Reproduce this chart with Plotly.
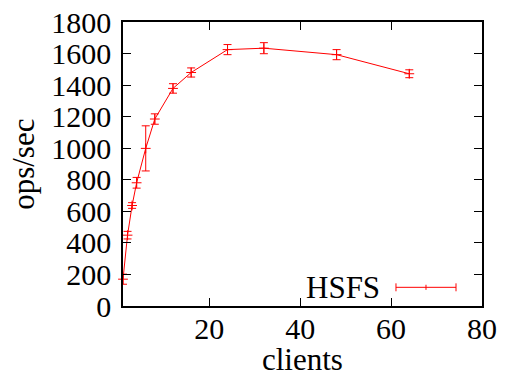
import plotly.graph_objects as go

clients = [1, 2, 3, 4, 6, 8, 12, 16, 24, 32, 48, 64]
ops = [170, 449, 637, 781, 999, 1185, 1379, 1480, 1625, 1634, 1593, 1472]
err = [32, 24, 18, 34, 143, 33, 30, 29, 32, 35, 32, 25]
series_name = "HSFS"
x_title = "clients"
y_title = "ops/sec"
x_ticks = [20, 40, 60, 80]
y_ticks = list(range(0, 1801, 200))

RED = "#ff0000"
FONT = "Liberation Serif"
FS_TICK = 30
FS_TEXT = 31

fig = go.Figure()
fig.add_trace(go.Scatter(
    x=clients, y=ops, mode="lines+markers", name=series_name,
    line=dict(color=RED, width=1),
    marker=dict(symbol="cross-thin", size=7, line=dict(color=RED, width=1), color=RED),
    error_y=dict(type="data", array=err, visible=True, color=RED, thickness=1, width=4),
    showlegend=False, cliponaxis=False,
))

# legend (gnuplot-style: text left, sample right)
lx0, lx1, ly = 0.7604, 0.9276, 0.0658
fig.add_annotation(x=0.7214, y=ly, xref="paper", yref="paper", text=series_name,
                   showarrow=False, xanchor="right", yanchor="middle",
                   font=dict(family=FONT, size=FS_TEXT, color="black"))
fig.add_shape(type="line", xref="paper", yref="paper", x0=lx0, x1=lx1, y0=ly, y1=ly,
              line=dict(color=RED, width=1))
for xx, h in [(lx0, 0.014), (lx1, 0.014), ((lx0 + lx1) / 2, 0.009)]:
    fig.add_shape(type="line", xref="paper", yref="paper", x0=xx, x1=xx, y0=ly - h, y1=ly + h,
                  line=dict(color=RED, width=1))

# axis titles
fig.add_annotation(x=0.5, y=-0.19, xref="paper", yref="paper", text=x_title,
                   showarrow=False, xanchor="center", yanchor="middle",
                   font=dict(family=FONT, size=FS_TEXT, color="black"))
fig.add_annotation(x=-0.279, y=0.5, xref="paper", yref="paper", text=y_title, textangle=-90,
                   showarrow=False, xanchor="center", yanchor="middle",
                   font=dict(family=FONT, size=FS_TEXT, color="black"))

axis_common = dict(
    showline=True, linecolor="black", linewidth=1.5, mirror="allticks",
    ticks="inside", ticklen=8, tickwidth=1, tickcolor="black",
    showgrid=False, zeroline=False,
    tickfont=dict(family=FONT, size=FS_TICK, color="black"),
)
fig.update_xaxes(range=[1, 80], tickvals=x_ticks, ticktext=[str(v) for v in x_ticks],
                 ticklabelstandoff=-5, **axis_common)
fig.update_yaxes(range=[0, 1800], tickvals=y_ticks, ticktext=[str(v) for v in y_ticks],
                 ticklabelstandoff=4, **axis_common)

fig.update_layout(
    width=507, height=376,
    margin=dict(l=123, r=25, t=22, b=70, autoexpand=False),
    paper_bgcolor="white", plot_bgcolor="white",
    font=dict(family=FONT),
)
fig.write_html("out.html", config={"displayModeBar": False},
               post_script="document.body.style.margin='0';document.body.style.overflow='hidden';")
